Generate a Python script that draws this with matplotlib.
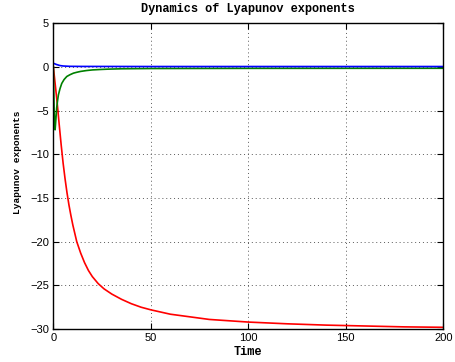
import matplotlib
matplotlib.use("Agg")
import matplotlib.pyplot as plt

# values
t_red = [0, 1, 2, 3, 4, 5, 6, 7, 8, 9, 10, 12, 14, 16, 18, 20, 23, 26, 30, 35, 40, 45, 50,
         60, 70, 80, 90, 100, 120, 140, 160, 180, 200]
lam_red = [0, -2.1, -4.2, -6.6, -8.9, -11.0, -12.8, -14.4, -15.8, -17.0, -18.1, -20.0, -21.3,
           -22.4, -23.3, -24.0, -24.8, -25.4, -26.0, -26.6, -27.1, -27.5, -27.8,
           -28.3, -28.6, -28.9, -29.05, -29.2, -29.4, -29.55, -29.65, -29.75, -29.8]

t_green = [0, 0.4, 0.9, 1.3, 1.7, 2.2, 2.6, 3.4, 4.3, 5.5, 6.9, 8.5, 10.3, 12, 14, 17, 20, 24,
           28, 35, 50, 100, 200]
lam_green = [0, -5.0, -7.2, -6.0, -4.7, -3.8, -3.2, -2.5, -1.9, -1.45, -1.1, -0.9, -0.72,
             -0.62, -0.52, -0.42, -0.35, -0.3, -0.26, -0.22, -0.19, -0.17, -0.16]

t_blue = [0, 0.4, 1.5, 3.4, 5, 8.5, 15, 50, 200]
lam_blue = [0.4, 0.38, 0.28, 0.15, 0.1, 0.06, 0.05, 0.04, 0.04]

mono = "Liberation Mono"
sans = "Liberation Sans"

fig = plt.figure(figsize=(4.56, 3.62), dpi=100)
ax = fig.add_axes([0.117, 0.091, 0.855, 0.845])

ax.plot(t_red, lam_red, color="#ff0000", lw=1.2)
ax.plot(t_green, lam_green, color="#008000", lw=1.2)
ax.plot(t_blue, lam_blue, color="#0000ff", lw=1.2)

ax.set_xlim(0, 200)
ax.set_ylim(-30, 5)
ax.set_xticks([0, 50, 100, 150, 200])
ax.set_yticks([-30, -25, -20, -15, -10, -5, 0, 5])
ax.grid(True, color="0.35", lw=0.7, linestyle=(0, (1, 3)))
ax.tick_params(direction="in", top=True, right=True, length=4, width=0.8,
               labelsize=8, pad=3)
for lab in ax.get_xticklabels() + ax.get_yticklabels():
    lab.set_fontfamily(sans)
for s in ax.spines.values():
    s.set_linewidth(1.0)

ax.set_title("Dynamics of Lyapunov exponents", fontfamily=mono, fontweight="bold",
             fontsize=8.6, pad=8)
ax.set_xlabel("Time", fontfamily=mono, fontweight="bold", fontsize=8.6, labelpad=2)
ax.set_ylabel("Lyapunov exponents", fontfamily=mono, fontweight="bold", fontsize=6.8)
ax.yaxis.set_label_coords(-0.08, 0.544)

fig.savefig("out.png", dpi=100)
